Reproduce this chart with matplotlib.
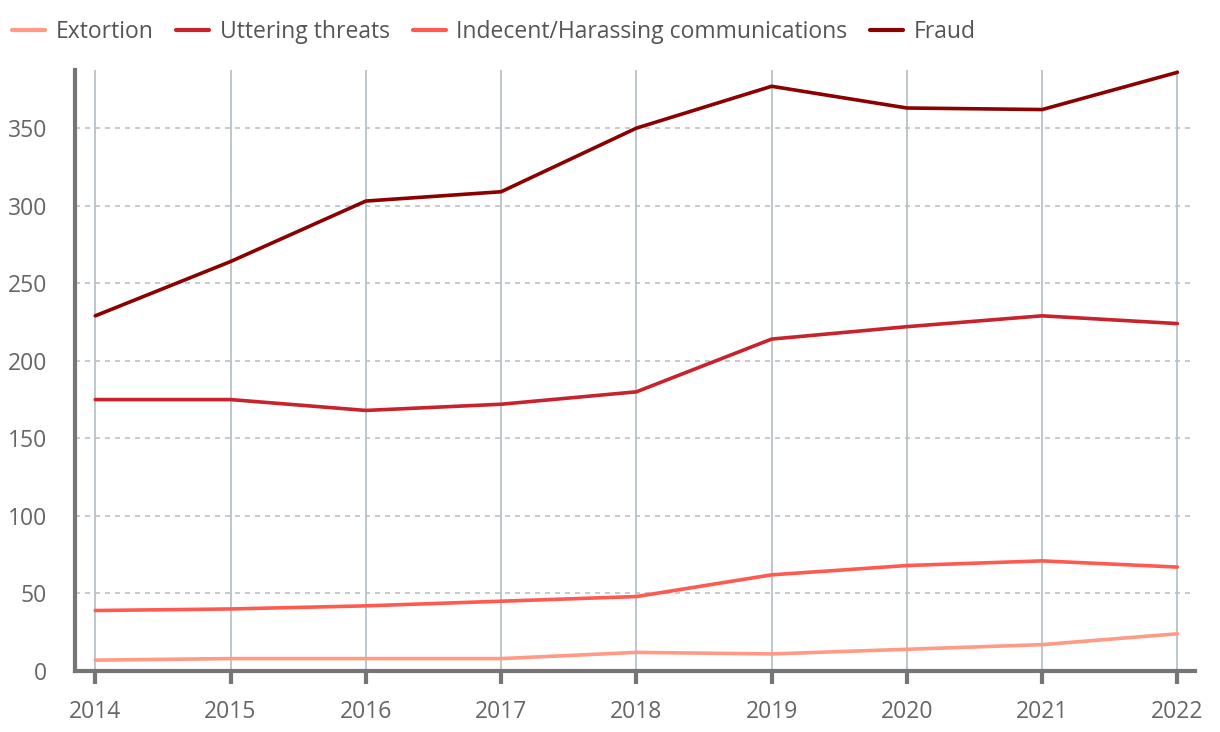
import matplotlib
matplotlib.use("Agg")
import matplotlib.pyplot as plt

years = [2014, 2015, 2016, 2017, 2018, 2019, 2020, 2021, 2022]
extortion = [7, 8, 8, 8, 12, 11, 14, 17, 24]
uttering = [175, 175, 168, 172, 180, 214, 222, 229, 224]
indecent = [39, 40, 42, 45, 48, 62, 68, 71, 67]
fraud = [229, 264, 303, 309, 350, 377, 363, 362, 386]

series = [
    ("Extortion", extortion, "#ff9a85"),
    ("Uttering threats", uttering, "#c8232c"),
    ("Indecent/Harassing communications", indecent, "#ff5a50"),
    ("Fraud", fraud, "#8b0000"),
]

plt.rcParams['font.family'] = ['Open Sans', 'DejaVu Sans']

fig = plt.figure(figsize=(12.2, 7.32), dpi=100)
ax = fig.add_axes([75/1220, 1 - 671/732, (1195-75)/1220, (671-70)/732])

for name, vals, col in series:
    ax.plot(years, vals, color=col, lw=2.6, label=name, solid_capstyle='round')

ax.set_xlim(2013.85, 2022.13)
ax.set_ylim(0, 387.5)
ax.set_xticks(years)
ax.set_yticks([0, 50, 100, 150, 200, 250, 300, 350])

ax.grid(axis='x', color='#b8c2c9', lw=1.3, ls='-')
ax.grid(axis='y', color='#b8c2c9', lw=1.2, ls=(0, (3, 3)))
ax.set_axisbelow(True)

for s in ['top', 'right']:
    ax.spines[s].set_visible(False)
for s in ['left', 'bottom']:
    ax.spines[s].set_color('#757575')
    ax.spines[s].set_linewidth(3)

ax.tick_params(axis='x', length=9, width=3, color='#757575', labelsize=16.5, labelcolor='#666666', pad=12)
ax.tick_params(axis='y', length=0, labelsize=16.5, labelcolor='#666666', pad=20)

leg = fig.legend(loc='center left', bbox_to_anchor=(5/1220, 1 - 32/732), ncol=4, frameon=False,
                 fontsize=16.5, handlelength=1.45, handletextpad=0.45, columnspacing=1.0,
                 labelcolor='#555555', borderaxespad=0, borderpad=0.3)
for line in leg.get_lines():
    line.set_linewidth(3)

fig.savefig("out.png", dpi=100)
